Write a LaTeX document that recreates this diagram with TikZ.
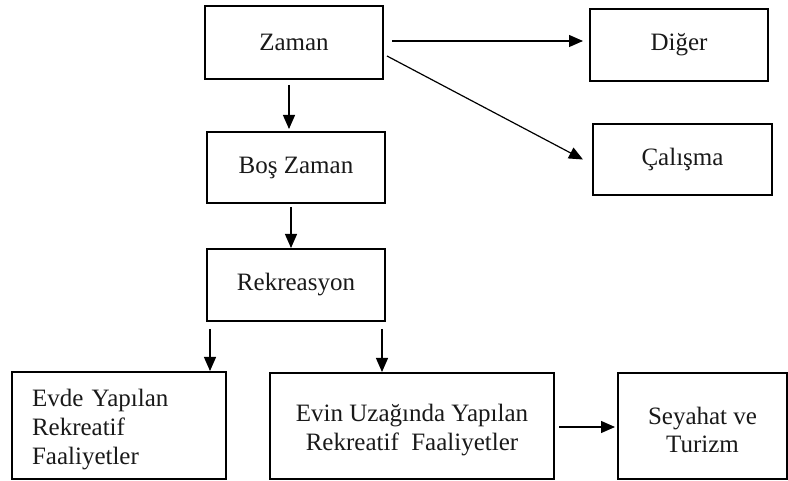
\documentclass[tikz,border=0pt]{standalone}
\usepackage{fontspec}
\setmainfont{Liberation Serif}
\usetikzlibrary{arrows.meta}
\begin{document}
\begin{tikzpicture}[x=1pt,y=-1pt,
  box/.style={draw, line width=2pt, outer sep=0pt, inner sep=0pt,
    font=\fontsize{25}{28.8}\selectfont, align=center, text=black!90},
  txt/.style={inner sep=0pt, font=\fontsize{25}{28.8}\selectfont, text=black!90},
  arr/.style={-{Triangle[length=14pt,width=12pt]}, line width=1.2pt}]
\useasboundingbox (0,0) rectangle (788,481);
\node[box, minimum width=178pt, minimum height=73pt] (zaman) at (294,42.5) {Zaman};
\node[box, minimum width=178pt, minimum height=72pt] (diger) at (679,45) {Diğer};
\node[box, minimum width=179pt, minimum height=71pt] (calisma) at (682.5,159.5) {Çalışma};
\node[box, minimum width=178pt, minimum height=71pt] (bos) at (296,167.5) {Boş Zaman};
\node[box, minimum width=178pt, minimum height=72pt] (rekr) at (296,285) {Rekreasyon};
\node[box, minimum width=214pt, minimum height=107pt] (evde) at (119,425.5) {};
\node[txt, text width=174pt, align=left] (evdetxt) at ([yshift=-4pt]evde.center) {Evde Yapılan\\Rekreatif\\Faaliyetler};
\node[box, minimum width=284pt, minimum height=106pt] (evin) at (412,426) {};
\node[txt, align=center] (evintxt) at ([yshift=-4pt]evin.center) {Evin Uzağında Yapılan\\Rekreatif\ \ Faaliyetler};
\node[box, minimum width=169pt, minimum height=106pt] (seyahat) at (702.5,426) {};
\node[txt, align=center] (seyahattxt) at ([yshift=-4pt]seyahat.center) {Seyahat ve\\Turizm};
\draw[arr] ([xshift=9pt,yshift=1.5pt]zaman.east) -- ([xshift=-7pt,yshift=4pt]diger.west);
\draw[arr] ([xshift=4pt,yshift=-13.5pt]zaman.east) -- ([xshift=-10pt]calisma.west);
\draw[arr] ([xshift=-5pt,yshift=-6pt]zaman.south) -- ([xshift=-7pt,yshift=3pt]bos.north);
\draw[arr] ([xshift=-5pt,yshift=-4pt]bos.south) -- ([xshift=-5pt,yshift=1pt]rekr.north);
\draw[arr] ([xshift=3pt,yshift=-8pt]rekr.south west) -- ([xshift=-16pt,yshift=1pt]evde.north east);
\draw[arr] ([xshift=-3pt,yshift=-8pt]rekr.south east) -- ([xshift=-30pt,yshift=1pt]evin.north);
\draw[arr] ([xshift=5pt,yshift=-1pt]evin.east) -- ([xshift=-3pt,yshift=-1pt]seyahat.west);
\end{tikzpicture}
\end{document}
